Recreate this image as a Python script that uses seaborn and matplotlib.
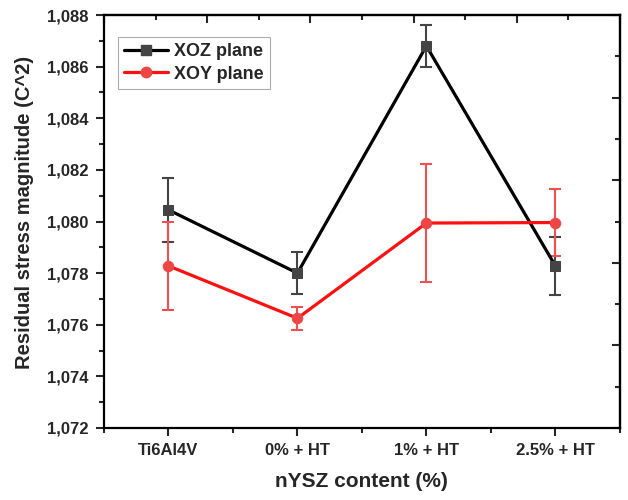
import numpy as np
import pandas as pd
import seaborn as sns
import matplotlib.pyplot as plt
from matplotlib.ticker import FuncFormatter, MultipleLocator, FixedLocator
from matplotlib.lines import Line2D

# data
groups = ["Ti6Al4V", "0% + HT", "1% + HT", "2.5% + HT"]
xoz_mean = [1.08045, 1.07800, 1.08680, 1.07828]
xoz_err = [0.00125, 0.00080, 0.00080, 0.00113]
xoy_mean = [1.07828, 1.07625, 1.07994, 1.07996]
xoy_err = [0.00170, 0.00044, 0.00230, 0.00130]

sns.set_theme(style="ticks")
plt.rcParams["font.family"] = ["Liberation Sans", "DejaVu Sans"]
plt.rcParams["font.weight"] = "bold"

df = pd.concat(
    [
        pd.DataFrame({"pos": range(4), "value": xoz_mean, "err": xoz_err, "plane": "XOZ plane"}),
        pd.DataFrame({"pos": range(4), "value": xoy_mean, "err": xoy_err, "plane": "XOY plane"}),
    ],
    ignore_index=True,
)

styles = {
    "XOZ plane": dict(line="black", mark="#444444", ebar="#444444", marker="s", ms=6.5),
    "XOY plane": dict(line="#ff1010", mark="#f04545", ebar="#f05050", marker="o", ms=7.5),
}

fig = plt.figure(figsize=(6.28, 5.0), dpi=100)
ax = fig.add_axes([0.1656, 0.144, 0.8214, 0.826])

handles = []
for name in ["XOZ plane", "XOY plane"]:
    s = styles[name]
    sub = df[df["plane"] == name]
    ax.errorbar(sub["pos"], sub["value"], yerr=sub["err"], fmt="none",
                ecolor=s["ebar"], elinewidth=1.5, capsize=4, capthick=1.5, zorder=2)
    sns.lineplot(data=sub, x="pos", y="value", ax=ax, color=s["line"], lw=2.3,
                 marker=s["marker"], markersize=s["ms"], markerfacecolor=s["mark"],
                 markeredgecolor=s["mark"], sort=False, zorder=3)
    handles.append(Line2D([], [], color=s["line"], lw=2.3, marker=s["marker"],
                          markersize=s["ms"], markerfacecolor=s["mark"],
                          markeredgecolor=s["mark"], label=name))

ax.set_xlim(-0.5, 3.5)
ax.set_ylim(1.072, 1.088)
ax.set_xticks(range(4))
ax.set_xticklabels(groups)
ax.xaxis.set_minor_locator(MultipleLocator(0.5))
ax.yaxis.set_major_locator(MultipleLocator(0.002))
ax.yaxis.set_minor_locator(MultipleLocator(0.001))
ax.yaxis.set_major_formatter(FuncFormatter(lambda v, p: f"{v:.3f}".replace(".", ",")))

ax.tick_params(which="major", direction="out", length=6, width=1.5, labelsize=12, pad=5)
ax.tick_params(which="minor", direction="out", length=3.5, width=1.5)
for lab in ax.get_xticklabels() + ax.get_yticklabels():
    lab.set_fontweight("bold")

for sp in ax.spines.values():
    sp.set_linewidth(1.6)
    sp.set_color("black")

# Origin-style top/right axes with ten inward divisions
top = ax.secondary_xaxis("top", functions=(lambda x: (x + 0.5) / 4, lambda f: f * 4 - 0.5))
top.xaxis.set_major_locator(FixedLocator(np.arange(0, 1.01, 0.2)))
top.xaxis.set_minor_locator(FixedLocator(np.arange(0.1, 1, 0.2)))
top.tick_params(which="both", direction="in", labeltop=False, width=1.5)
top.tick_params(which="major", length=6)
top.tick_params(which="minor", length=3.5)
top.spines["top"].set_linewidth(1.6)

right = ax.secondary_yaxis("right", functions=(lambda y: (y - 1.072) / 0.016, lambda f: f * 0.016 + 1.072))
right.yaxis.set_major_locator(FixedLocator(np.arange(0, 1.01, 0.2)))
right.yaxis.set_minor_locator(FixedLocator(np.arange(0.1, 1, 0.2)))
right.tick_params(which="both", direction="in", labelright=False, width=1.5)
right.tick_params(which="major", length=6)
right.tick_params(which="minor", length=3.5)
right.spines["right"].set_linewidth(1.6)

ax.set_xlabel("nYSZ content (%)", fontsize=15, fontweight="bold", labelpad=10)
ax.set_ylabel("Residual stress magnitude (C^2)", fontsize=14.5, fontweight="bold")
ax.yaxis.set_label_coords(-0.136, 0.523)

leg = ax.legend(handles=handles, loc="upper left", bbox_to_anchor=(0.027, 0.947),
                borderaxespad=0, fancybox=False, frameon=True, edgecolor="#999999",
                handlelength=2.4, borderpad=0.35, labelspacing=0.3, handletextpad=0.35,
                prop={"size": 13, "weight": "bold"})
leg.get_frame().set_linewidth(0.8)

fig.savefig("out.png", dpi=100)
